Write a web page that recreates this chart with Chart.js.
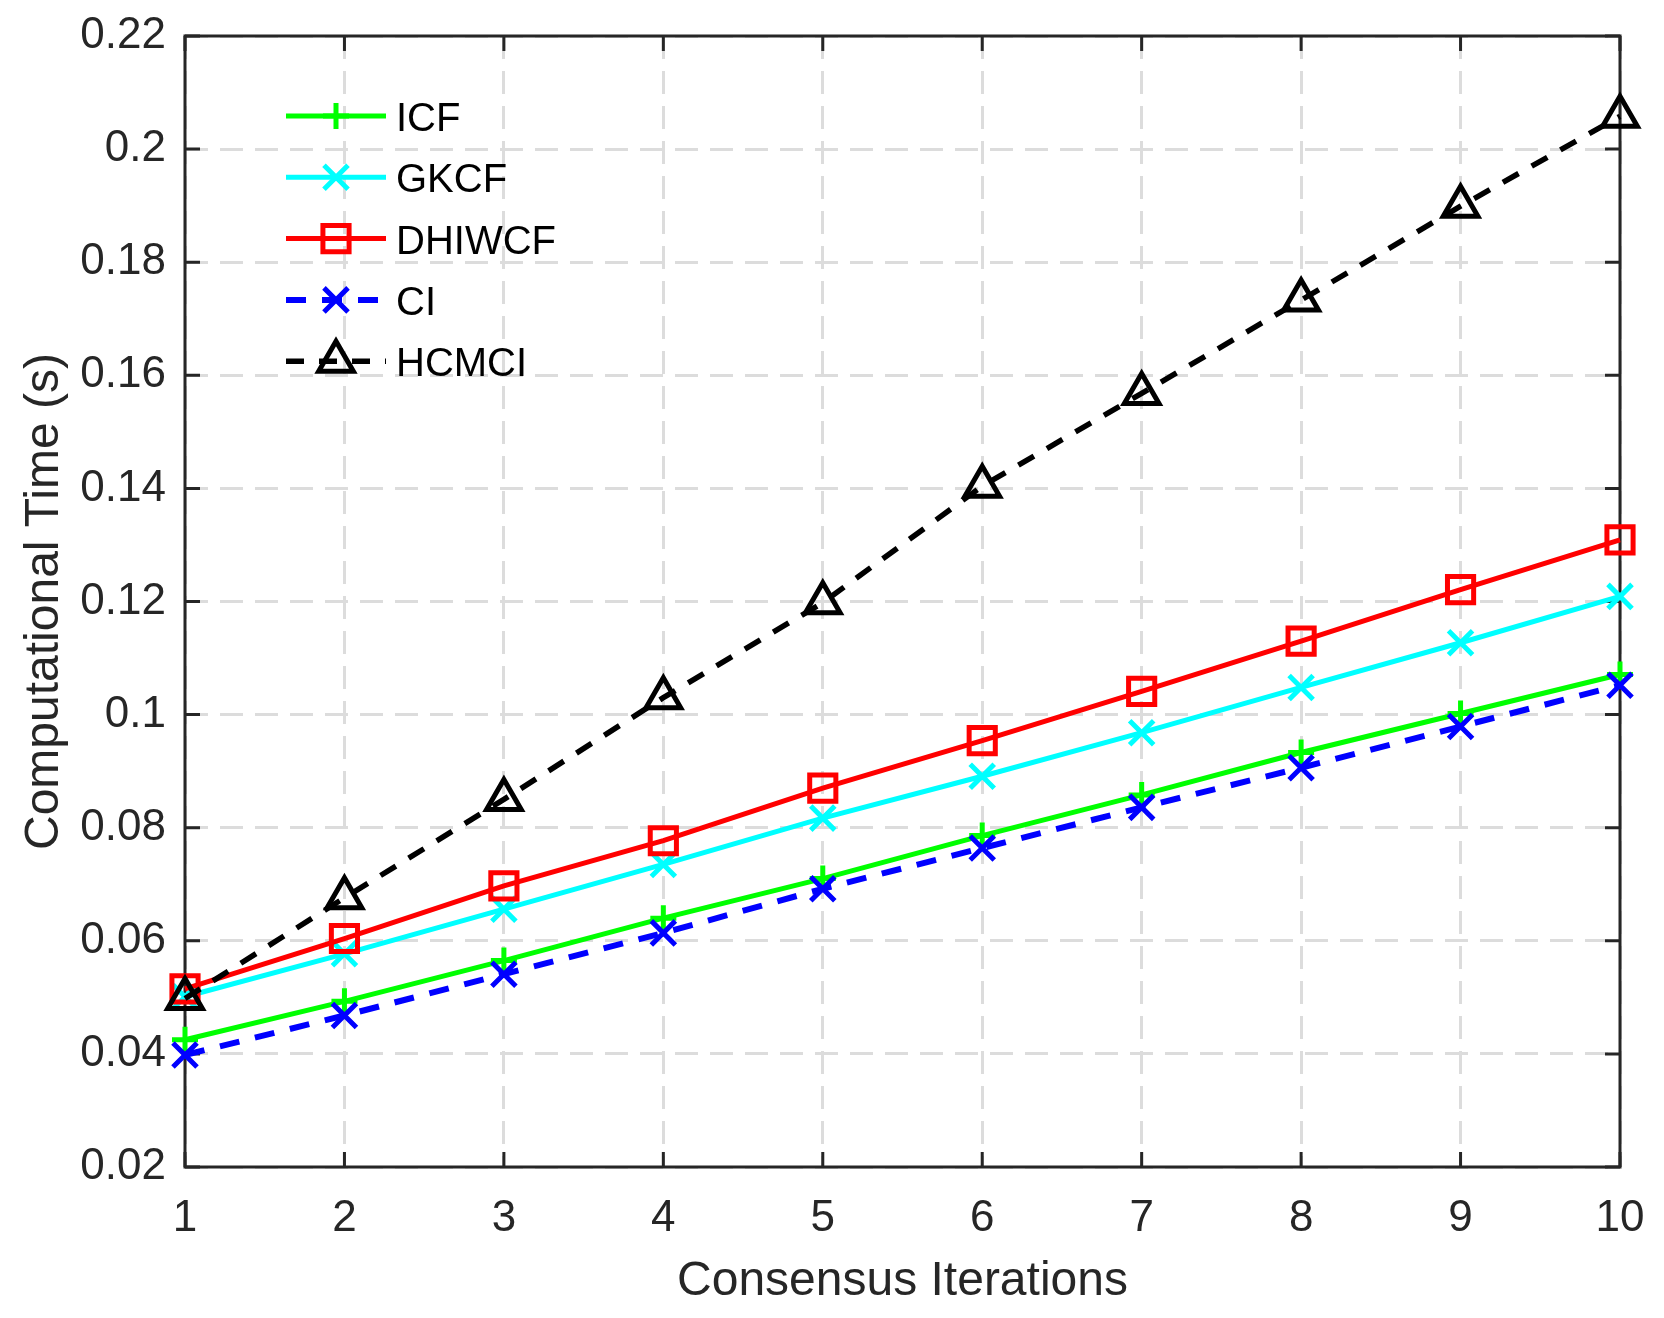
<!DOCTYPE html>
<html>
<head>
<meta charset="utf-8">
<script src="https://cdn.jsdelivr.net/npm/chart.js@4.4.1/dist/chart.umd.min.js"></script>
<style>
  html, body { margin: 0; padding: 0; background: #fff; }
  #wrap { width: 1664px; height: 1318px; }
</style>
</head>
<body>
<div id="wrap"><canvas id="grafico" width="1664" height="1318"></canvas></div>
<script>
// dados
const iteracoes = [1, 2, 3, 4, 5, 6, 7, 8, 9, 10];
const icf = [0.0425, 0.0493, 0.0565, 0.064, 0.071, 0.0786, 0.0858, 0.0933, 0.1002, 0.1071];
const gkcf = [0.0501, 0.0577, 0.0656, 0.0735, 0.0817, 0.0891, 0.0968, 0.1048, 0.1127, 0.1209];
const dhiwcf = [0.0515, 0.0604, 0.0697, 0.0777, 0.087, 0.0954, 0.1041, 0.113, 0.1221, 0.1309];
const ci = [0.0398, 0.0468, 0.0541, 0.0614, 0.0692, 0.0764, 0.0836, 0.0906, 0.0979, 0.1052];
const hcmci = [0.0498, 0.0676, 0.085, 0.103, 0.1198, 0.1404, 0.1568, 0.1733, 0.1899, 0.2058];
const yMarcas = [0.02, 0.04, 0.06, 0.08, 0.1, 0.12, 0.14, 0.16, 0.18, 0.2, 0.22];
const nomes = ["ICF", "GKCF", "DHIWCF", "CI", "HCMCI"];

const fonte = "'Liberation Sans', Arial, sans-serif";
const corEixo = "#262626";

// estilo de cada série (cor, traço, marcador)
const estilos = [
  { cor: "#00ff00", largura: 5, traco: [], marcador: "cross", raio: 13, ordem: 5 },
  { cor: "#00ffff", largura: 5, traco: [], marcador: "crossRot", raio: 17, ordem: 4 },
  { cor: "#ff0000", largura: 5, traco: [], marcador: "rect", raio: 18.5, ordem: 3 },
  { cor: "#0000ff", largura: 6, traco: [20, 16], marcador: "crossRot", raio: 17, ordem: 2 },
  { cor: "#000000", largura: 5.5, traco: [18, 15], marcador: "triangle", raio: 20, ordem: 1 },
];
const valores = [icf, gkcf, dhiwcf, ci, hcmci];

const datasets = nomes.map((nome, i) => ({
  label: nome,
  data: iteracoes.map((x, k) => ({ x: x, y: valores[i][k] })),
  borderColor: estilos[i].cor,
  borderWidth: estilos[i].largura,
  borderDash: estilos[i].traco,
  pointStyle: estilos[i].marcador,
  pointRadius: estilos[i].raio,
  pointHoverRadius: estilos[i].raio,
  pointBorderWidth: 5,
  pointBorderColor: estilos[i].cor,
  pointBackgroundColor: "rgba(0,0,0,0)",
  fill: false,
  tension: 0,
  clip: false,
  order: estilos[i].ordem,
}));

// moldura da área do gráfico com ticks para dentro (estilo MATLAB)
const moldura = {
  id: "moldura",
  beforeDatasetsDraw(chart) {
    const { ctx, chartArea: a, scales } = chart;
    const len = 15;
    ctx.save();
    ctx.setLineDash([]);
    ctx.strokeStyle = corEixo;
    ctx.lineWidth = 3;
    ctx.beginPath();
    scales.x.ticks.forEach((t) => {
      const px = scales.x.getPixelForValue(t.value);
      ctx.moveTo(px, a.bottom);
      ctx.lineTo(px, a.bottom - len);
      ctx.moveTo(px, a.top);
      ctx.lineTo(px, a.top + len);
    });
    scales.y.ticks.forEach((t) => {
      const py = scales.y.getPixelForValue(t.value);
      ctx.moveTo(a.left, py);
      ctx.lineTo(a.left + len, py);
      ctx.moveTo(a.right, py);
      ctx.lineTo(a.right - len, py);
    });
    ctx.stroke();
    ctx.strokeRect(a.left, a.top, a.right - a.left, a.bottom - a.top);
    ctx.restore();
  },
};

function desenharMarcador(ctx, estilo, x, y, r) {
  ctx.beginPath();
  if (estilo === "cross") {
    ctx.moveTo(x - r, y);
    ctx.lineTo(x + r, y);
    ctx.moveTo(x, y - r);
    ctx.lineTo(x, y + r);
  } else if (estilo === "crossRot") {
    const d = r * Math.SQRT1_2;
    ctx.moveTo(x - d, y - d);
    ctx.lineTo(x + d, y + d);
    ctx.moveTo(x - d, y + d);
    ctx.lineTo(x + d, y - d);
  } else if (estilo === "rect") {
    const s = r * Math.SQRT1_2;
    ctx.rect(x - s, y - s, 2 * s, 2 * s);
  } else if (estilo === "triangle") {
    ctx.moveTo(x, y - r);
    ctx.lineTo(x + r * Math.sin((2 * Math.PI) / 3), y + r / 2);
    ctx.lineTo(x - r * Math.sin((2 * Math.PI) / 3), y + r / 2);
    ctx.closePath();
  }
  ctx.stroke();
}

// legenda desenhada à mão (linha + marcador como no MATLAB)
const legenda = {
  id: "legenda",
  afterDraw(chart) {
    const { ctx } = chart;
    const x0 = 286, x1 = 386, y0 = 116, passo = 61.3;
    ctx.save();
    chart.data.datasets.forEach((ds, i) => {
      const y = y0 + i * passo;
      ctx.strokeStyle = ds.borderColor;
      ctx.lineWidth = ds.borderWidth;
      ctx.setLineDash(ds.borderDash || []);
      ctx.beginPath();
      ctx.moveTo(x0, y);
      ctx.lineTo(x1, y);
      ctx.stroke();
      ctx.setLineDash([]);
      ctx.lineWidth = ds.pointBorderWidth;
      desenharMarcador(ctx, ds.pointStyle, (x0 + x1) / 2, y, ds.pointRadius);
      ctx.fillStyle = "#000";
      ctx.font = "40px " + fonte;
      ctx.textAlign = "left";
      ctx.textBaseline = "alphabetic";
      ctx.fillText(ds.label, 396, y + 15);
    });
    ctx.restore();
  },
};

const ctx = document.getElementById("grafico").getContext("2d");
new Chart(ctx, {
  type: "line",
  data: { datasets: datasets },
  options: {
    responsive: false,
    devicePixelRatio: 1,
    animation: false,
    layout: { padding: { top: 36, right: 44, left: 0, bottom: 0 } },
    plugins: { legend: { display: false }, tooltip: { enabled: false } },
    scales: {
      x: {
        type: "linear",
        min: 1,
        max: 10,
        afterBuildTicks: (s) => {
          s.ticks = iteracoes.map((v) => ({ value: v }));
        },
        afterFit: (s) => {
          // área fixa: sem folga extra para os rótulos das pontas
          s.height = 151;
          s.paddingLeft = 0;
          s.paddingRight = 0;
        },
        grid: { color: "#dcdcdc", lineWidth: 3, drawTicks: false },
        border: { display: false, dash: [23, 12] },
        ticks: {
          padding: 25,
          color: corEixo,
          maxRotation: 0,
          autoSkip: false,
          font: { family: fonte, size: 44 },
          callback: (v) => String(v),
        },
        title: {
          display: true,
          text: "Consensus Iterations",
          color: corEixo,
          font: { family: fonte, size: 48 },
          padding: { top: 0, bottom: 7 },
        },
      },
      y: {
        type: "linear",
        min: 0.02,
        max: 0.22,
        afterBuildTicks: (s) => {
          s.ticks = yMarcas.map((v) => ({ value: v }));
        },
        afterFit: (s) => {
          s.width = 185;
          s.paddingTop = 0;
          s.paddingBottom = 0;
        },
        grid: { color: "#dcdcdc", lineWidth: 3, drawTicks: false },
        border: { display: false, dash: [23, 12] },
        ticks: {
          padding: 19,
          color: corEixo,
          autoSkip: false,
          font: { family: fonte, size: 44 },
          callback: (v) => String(parseFloat(Number(v).toFixed(2))),
        },
        title: {
          display: true,
          text: "Computational Time (s)",
          color: corEixo,
          font: { family: fonte, size: 48 },
          padding: { top: 16, bottom: 0 },
        },
      },
    },
  },
  plugins: [moldura, legenda],
});
</script>
</body>
</html>
